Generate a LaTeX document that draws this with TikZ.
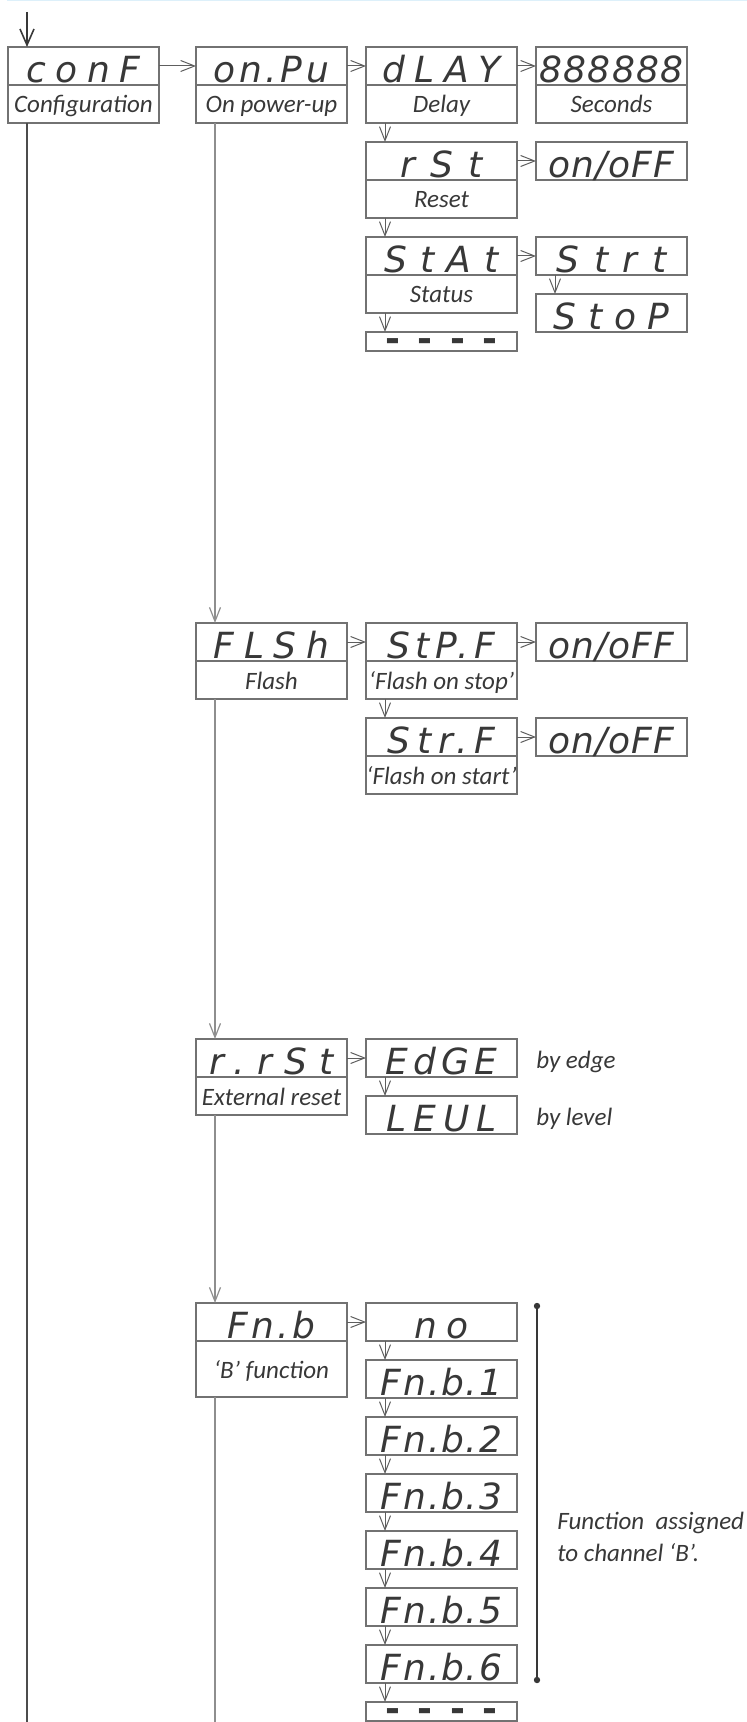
\documentclass[tikz,border=0pt]{standalone}
\usepackage{fontspec}
\setmainfont{Carlito}
\newfontfamily\segfont{DejaVu Sans}
\usetikzlibrary{arrows.meta,positioning}

\definecolor{boxgray}{HTML}{727272}
\definecolor{arrowgray}{HTML}{5E5E5E}
\definecolor{linegray}{HTML}{8E8E8E}
\definecolor{inkgray}{HTML}{383838}
\definecolor{topblue}{HTML}{DDF0FA}

\tikzset{
  panel/.style={draw=boxgray, line width=0.6pt, outer sep=0pt, minimum width=75.5pt,
    minimum height=19pt, inner sep=0pt, text=inkgray},
  disp/.style={panel, text height=16.5pt, text depth=0pt,
    font=\segfont\itshape\fontsize{18}{18}\selectfont\addfontfeature{LetterSpace=#1}},
  disp/.default=24,
  dashbox/.style={panel, minimum height=9.5pt, text height=9.5pt, text depth=0pt,
    font=\segfont\bfseries\fontsize{18}{18}\selectfont\addfontfeature{LetterSpace=48}},
  lbl/.style={panel, text height=9pt, text depth=0pt, font=\itshape\fontsize{12.5}{15}\selectfont},
  note/.style={text=inkgray, inner sep=0pt, font=\itshape\fontsize{12.5}{16}\selectfont},
  go/.style={draw=arrowgray, line width=0.5pt, -{Straight Barb[length=7pt,width=5.5pt]}},
  trunk/.style={draw=linegray, line width=0.6pt},
  feed/.style={trunk, -{Straight Barb[length=7pt,width=5.5pt]}},
  spine/.style={draw=inkgray!90, line width=1.3pt},
}

\begin{document}
\begin{tikzpicture}[x=0.5pt,y=-0.5pt]
    \useasboundingbox (0,0) rectangle (747,1722);
    \fill[topblue] (7,0) rectangle (747,1.5);
    \coordinate (bottomedge) at (0,1722);

    % Configuration and power-up menus
    \node[disp=26] (conf) at (83.5,66) {conF};
    \node[lbl, below=0pt of conf] (confl) {Configuration};
    \node[disp=10, right=18.5pt of conf] (onpu) {on.Pu};
    \node[lbl, below=0pt of onpu] (onpul) {On power-up};
    \node[disp=26, right=9.5pt of onpu] (dlay) {dLAY};
    \node[lbl, below=0pt of dlay] (dlayl) {Delay};
    \node[disp=4, right=9.5pt of dlay] (secs) {888888};
    \node[lbl, below=0pt of secs] (secsl) {Seconds};
    \node[disp=42, below=9.5pt of dlayl] (rst) {rSt};
    \node[lbl, below=0pt of rst] (rstl) {Reset};
    \node[disp=3, right=9.5pt of rst] (rston) {on/oFF};
    \node[disp=35, below=9.5pt of rstl] (stat) {StAt};
    \node[lbl, below=0pt of stat] (statl) {Status};
    \node[disp=41, right=9.5pt of stat] (strt) {Strt};
    \node[disp=33, below=9.5pt of strt] (stop) {StoP};
    \node[dashbox, below=9.5pt of statl] (statend) {-{}-{}-{}-};

    % Flash menu
    \node[disp=27] (flsh) at (271.5,642) {FLSh};
    \node[lbl, below=0pt of flsh] (flshl) {Flash};
    \node[disp=15, right=9.5pt of flsh] (stpf) {StP.F};
    \node[lbl, below=0pt of stpf] (stpfl) {‘Flash on stop’};
    \node[disp=3, right=9.5pt of stpf] (stpfon) {on/oFF};
    \node[disp=19, below=9.5pt of stpfl] (strf) {Str.F};
    \node[lbl, below=0pt of strf] (strfl) {‘Flash on start’};
    \node[disp=3, right=9.5pt of strf] (strfon) {on/oFF};

    % External reset
    \node[disp=34] (rrst) at (271.5,1058) {r.rSt};
    \node[lbl, below=0pt of rrst] (rrstl) {External reset};
    \node[disp=15, right=9.5pt of rrst] (edge) {EdGE};
    \node[disp=19, below=9.5pt of edge] (levl) {LEUL};
    \node[note, right=9.5pt of edge, yshift=-2pt] (edgetxt) {by edge};
    \node[note, right=9.5pt of levl, yshift=-2pt] (levltxt) {by level};

    % B function
    \node[disp=9] (fnb) at (271.5,1322) {Fn.b};
    \node[lbl, below=0pt of fnb, minimum height=28pt] (fnbl) {‘B’ function};
    \node[disp=23, right=9.5pt of fnb] (fnno) {no};
    \node[disp=5, below=9.5pt of fnno] (fnb1) {Fn.b.1};
    \node[disp=5, below=9.5pt of fnb1] (fnb2) {Fn.b.2};
    \node[disp=5, below=9.5pt of fnb2] (fnb3) {Fn.b.3};
    \node[disp=5, below=9.5pt of fnb3] (fnb4) {Fn.b.4};
    \node[disp=5, below=9.5pt of fnb4] (fnb5) {Fn.b.5};
    \node[disp=5, below=9.5pt of fnb5] (fnb6) {Fn.b.6};
    \node[dashbox, below=9.5pt of fnb6] (fnbend) {-{}-{}-{}-};

    % Bracket and its note
    \coordinate[xshift=10pt, yshift=-1.5pt] (brtop) at (fnno.north east);
    \coordinate[xshift=10pt, yshift=1.5pt] (brbot) at (fnb6.south east);
    \draw[draw=inkgray, line width=0.6pt] (brtop) -- (brbot);
    \fill[inkgray] (brtop) circle (1.6pt) (brbot) circle (1.6pt);
    \coordinate[xshift=10pt] (notecorner) at (brtop |- fnb3.south);
    \node[note, align=left, anchor=north west] (fnnote) at (notecorner)
        {Function\ \ assigned\\to channel ‘B’.};

    % Horizontal steps
    \draw[go] (conf) -- (onpu);
    \draw[go] (onpu) -- (dlay);
    \draw[go] (dlay) -- (secs);
    \draw[go] (rst) -- (rston);
    \draw[go] (stat) -- (strt);
    \draw[go] (flsh) -- (stpf);
    \draw[go] (stpf) -- (stpfon);
    \draw[go] (strf) -- (strfon);
    \draw[go] (rrst) -- (edge);
    \draw[go] (fnb) -- (fnno);

    % Vertical steps
    \draw[go] ([xshift=9.5pt]dlayl.south west) -- ([xshift=9.5pt]rst.north west);
    \draw[go] ([xshift=9.5pt]rstl.south west) -- ([xshift=9.5pt]stat.north west);
    \draw[go] ([xshift=9.5pt]statl.south west) -- ([xshift=9.5pt]statend.north west);
    \draw[go] ([xshift=9.5pt]strt.south west) -- ([xshift=9.5pt]stop.north west);
    \draw[go] ([xshift=9.5pt]stpfl.south west) -- ([xshift=9.5pt]strf.north west);
    \draw[go] ([xshift=9.5pt]edge.south west) -- ([xshift=9.5pt]levl.north west);
    \draw[go] ([xshift=9.5pt]fnno.south west) -- ([xshift=9.5pt]fnb1.north west);
    \draw[go] ([xshift=9.5pt]fnb1.south west) -- ([xshift=9.5pt]fnb2.north west);
    \draw[go] ([xshift=9.5pt]fnb2.south west) -- ([xshift=9.5pt]fnb3.north west);
    \draw[go] ([xshift=9.5pt]fnb3.south west) -- ([xshift=9.5pt]fnb4.north west);
    \draw[go] ([xshift=9.5pt]fnb4.south west) -- ([xshift=9.5pt]fnb5.north west);
    \draw[go] ([xshift=9.5pt]fnb5.south west) -- ([xshift=9.5pt]fnb6.north west);
    \draw[go] ([xshift=9.5pt]fnb6.south west) -- ([xshift=9.5pt]fnbend.north west);

    % Menu trunks
    \draw[feed] ([xshift=9.5pt]onpul.south west) -- ([xshift=9.5pt]flsh.north west);
    \draw[feed] ([xshift=9.5pt]flshl.south west) -- ([xshift=9.5pt]rrst.north west);
    \draw[feed] ([xshift=9.5pt]rrstl.south west) -- ([xshift=9.5pt]fnb.north west);
    \coordinate[xshift=9.5pt] (fnbdrop) at (fnbl.south west);
    \draw[trunk] (fnbdrop) -- (fnbdrop |- bottomedge);

    % Entry and main spine
    \coordinate[xshift=9.5pt, yshift=17.5pt] (entry) at (conf.north west);
    \draw[draw=inkgray, line width=0.8pt, -{Straight Barb[length=8pt,width=7pt]}]
        (entry) -- ([xshift=9.5pt]conf.north west);
    \coordinate[xshift=9.5pt] (confdrop) at (confl.south west);
    \draw[spine] (confdrop) -- (confdrop |- bottomedge);
\end{tikzpicture}
\end{document}
